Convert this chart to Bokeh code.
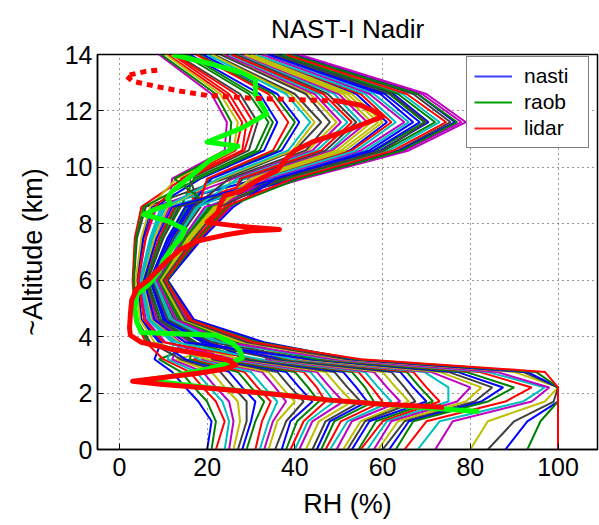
from bokeh.plotting import figure
from bokeh.models import FixedTicker, Range1d, Legend, LegendItem
from bokeh.embed import file_html
from bokeh.resources import INLINE

# ---------------- data ----------------
alt_levels = [0, 1.0, 1.7, 2.2, 2.75, 3.2, 3.8, 4.6, 6.0, 7.5, 8.6, 9.6, 10.6, 11.6, 12.6, 14.0]

nasti_rh = [
    [20, 21, 18, 15, 12, 8, 9.5, 5, 4, 5.5, 8, 18.5, 33, 36, 32, 16],
    [21, 22, 20, 17, 14, 9, 19.5, 10.3, 7, 11, 15.5, 20.5, 36, 40, 35, 18],
    [22, 24, 22, 19, 16, 10, 6, 3.5, 3, 3.5, 5, 14.5, 28, 29, 25, 12],
    [24, 25, 23.5, 20.5, 17.5, 11, 12.5, 6.7, 4.9, 7.2, 10, 38.5, 61.5, 73, 64.5, 37.5],
    [25, 26, 25, 22, 19, 12, 14, 7.5, 5.5, 8, 11.5, 12, 24, 24.5, 21, 9],
    [26, 27.5, 27, 24, 21, 13, 28.5, 15, 9.8, 16.5, 22.5, 25.5, 43, 49.5, 43.5, 23.5],
    [27, 29, 29, 26, 23, 14, 7, 4, 3.3, 4, 6, 24, 40, 46, 40, 21.5],
    [28, 30, 31, 28, 25, 15, 9, 5, 3.9, 5.2, 7.3, 32, 52.5, 61, 54, 30.5],
    [29, 31, 33, 30, 27, 16, 17.5, 9.5, 6.5, 10, 14, 17, 31, 34, 29.5, 14.5],
    [31, 32.5, 34.5, 31.5, 28.5, 17, 23, 12, 8.1, 13, 18, 14, 26.5, 28, 24, 11],
    [32, 34, 36, 33, 30, 18, 12, 6.5, 4.7, 7, 9.5, 29, 48, 55, 49, 27],
    [33, 35, 38, 35.5, 32.5, 19, 16, 8.5, 6, 9.2, 12.7, 41, 65, 78, 69, 40],
    [34, 36, 40, 37, 34, 20, 8, 4.7, 3.7, 5, 7, 13, 26, 27, 23, 10.5],
    [35.5, 38, 42, 39, 36, 21, 31, 16, 10.5, 18, 24.5, 28, 47, 54, 47.5, 26.5],
    [37, 39, 44, 41, 38, 22, 20, 10.5, 7, 11.5, 16, 21, 37, 41, 36, 19],
    [38, 40.5, 45.5, 43, 40, 23, 6.5, 3.8, 3.2, 3.8, 5.5, 18, 32, 35, 30.5, 15.5],
    [39, 42, 47, 45, 42, 24, 15, 8, 6, 9, 12.5, 33, 53, 62, 55, 31],
    [40, 43, 49, 46.5, 43.5, 25, 25, 13, 8.8, 14.5, 20, 35, 56, 66, 58, 33],
    [41, 44, 51, 48, 45, 26, 10.5, 6, 4.4, 6, 8.5, 26, 44, 50.5, 44.5, 24],
    [42.5, 45.5, 53, 50, 47, 27.5, 13.5, 7.3, 5.3, 8, 11, 23, 39.5, 44.5, 39, 21],
    [44, 47, 55, 52, 49, 28, 23.5, 12.5, 8, 13.5, 18.5, 16, 29.5, 31.5, 27.5, 13],
    [45, 48, 56.5, 54, 51, 29.5, 20.5, 11, 7.4, 12, 16.5, 37.5, 59.5, 70.5, 62.5, 36],
    [46, 49, 58, 56, 53, 30, 16.5, 9, 6, 9.5, 13, 36.5, 58.5, 69.5, 61.5, 35.5],
    [47, 50.5, 60, 57.5, 54.5, 31.5, 10, 5.6, 4.2, 6, 8, 15.5, 28.5, 30.5, 26.5, 12.5],
    [48, 52, 62, 59, 56, 32, 13, 7, 5, 7.5, 10.5, 22.5, 38.5, 43.5, 38, 20],
    [49.5, 53, 64, 61, 58, 33.5, 32, 17, 11, 18.5, 25.5, 29.5, 48.5, 56.5, 50, 28],
    [51, 55, 66, 63, 60, 35, 27, 14, 9.3, 15.5, 21.5, 30, 49.5, 57.5, 51, 28.5],
    [52, 56, 67.5, 65, 62, 35.5, 17, 9, 6.3, 10, 13.5, 40, 63.5, 75.5, 67, 39],
    [53, 57, 70, 67, 64, 37, 19, 10, 7, 11, 15, 40.5, 64, 76.5, 68, 39.5],
    [54.5, 58.5, 71.5, 68.5, 65.5, 37.5, 26.5, 14, 9.1, 15, 21, 12.5, 25, 25.5, 22, 9.5],
    [55, 60, 73, 70, 67, 39, 22, 11.5, 8, 13, 18, 20, 35, 38.5, 34, 17.5],
    [56.5, 61, 75, 75, 69.5, 39.5, 22, 11.5, 7.7, 12.5, 17.5, 27, 45, 52, 45.5, 25],
    [58, 62, 77, 80, 71, 41, 29.5, 15.5, 10, 17, 23, 34, 55, 65, 57, 32.5],
    [59, 63.5, 79, 82.5, 73, 41.5, 27.5, 14.5, 9.5, 16, 22, 31, 50.5, 59, 52, 29],
    [60, 65, 81, 85, 75, 43, 21, 11, 7.5, 12.5, 17, 25, 42.5, 48, 42.5, 23],
    [61.5, 66, 82.5, 87.5, 77, 43.5, 15, 8, 5.6, 8.5, 12, 36, 58, 68.5, 60.5, 34.5],
    [63, 67, 84, 90, 79, 45, 26, 13.5, 9, 15, 20.5, 38, 60.5, 72, 63.5, 37],
    [65, 70, 88, 94, 82, 47, 32, 16.5, 10.5, 18.5, 25, 27.5, 46, 53, 46.5, 25.5],
    [68, 73, 92, 97, 84, 48, 23, 12, 8, 13, 18, 33, 54, 63, 56, 31],
    [72, 76, 94, 98, 86, 49, 24.5, 13, 8.5, 14.5, 19.5, 42, 66, 79, 70, 41],
    [80, 84, 97, 100, 90, 51, 28, 14.5, 9.5, 16.5, 22.5, 31.5, 51.5, 60, 53, 30],
    [84, 90, 99, 100, 92, 52, 29, 15, 10, 17, 23, 37, 60, 70, 62, 35],
    [88, 93, 100, 100, 93, 53, 33, 17, 11, 19, 26, 35.5, 57, 67, 59.5, 34],
    [93, 96, 100, 100, 95, 54, 31.5, 16, 10.8, 18, 24.5, 41, 64.5, 77, 68, 39],
    [100, 100, 100, 100, 97, 55, 30.5, 16, 10.5, 17.5, 24, 39.5, 62.5, 74.5, 65.5, 38],
]

raob_alt = [1.35, 1.45, 1.6, 1.75, 2.0, 2.2, 2.35, 2.44, 2.6, 2.85, 3.1, 3.25, 3.5, 3.74, 4.05,
            4.15, 4.5, 5.0, 5.5, 5.9, 6.3, 6.7, 7.14, 7.5, 7.8, 8.1, 8.33, 8.5, 8.7, 8.9, 9.15,
            9.4, 9.86, 10.3, 10.75, 10.9, 11.4, 11.9, 12.6, 13.1, 13.35, 13.7, 14.0]
raob_rh = [82, 72, 60, 48, 33, 20, 12, 5, 12, 20, 26, 28, 27.5, 26, 22,
           5, 4, 3.5, 4, 7, 9, 10, 12, 14, 15, 11, 5.5, 8, 11.6, 11, 12,
           14, 17.6, 21, 27, 20, 28, 33.6, 31, 31, 28, 20, 12]

lidar_alt = [1.5, 1.6, 1.75, 1.95, 2.15, 2.3, 2.42, 2.55, 2.7, 2.85, 3.0, 3.15, 3.35, 3.55,
             3.8, 4.05, 4.3, 4.8, 5.3, 5.7, 6.0, 6.4, 6.7, 7.1, 7.4, 7.6, 7.75, 7.8, 7.9,
             8.05, 8.2, 8.4, 8.7, 9.0, 9.15, 9.5, 9.9, 10.3, 10.6, 10.9, 11.2, 11.5, 11.8,
             12.0, 12.2, 12.35]
lidar_rh = [74, 60, 48, 36, 22, 10, 3, 10, 18, 24, 26.5, 25, 20, 12,
            5, 2.5, 2.3, 2.5, 2.8, 4, 6.5, 9, 11, 14, 18, 24, 30, 36.5, 28,
            20, 21, 22.5, 23, 24, 27.5, 31, 36, 38, 40, 44, 50, 55, 60,
            58, 55, 50]
lidar_top_alt = [12.35, 12.45, 12.55, 12.7, 12.85, 13.05, 13.25, 13.4, 13.45]
lidar_top_rh = [50, 30, 20, 14, 9, 3, 1.5, 6, 9]

x_ticks = [0, 20, 40, 60, 80, 100]
y_ticks = [0, 2, 4, 6, 8, 10, 12, 14]

matlab_colors = ["#0000ff", "#008000", "#ff0000", "#00bfbf", "#bf00bf", "#bfbf00", "#404040"]

FONT = "Liberation Sans"

# ---------------- figure ----------------
p = figure(width=599, height=525, x_range=Range1d(-5, 109), y_range=Range1d(0, 14),
           output_backend="svg", toolbar_location=None,
           min_border_left=97, min_border_right=2, min_border_top=53, min_border_bottom=76)

p.title.text = "NAST-I Nadir"
p.title.align = "center"
p.title.text_font = FONT
p.title.text_font_size = "26px"
p.title.text_font_style = "normal"
p.title.text_color = "black"
p.title.standoff = 22

p.outline_line_color = "black"
p.outline_line_width = 1.5

for ax in (p.xaxis[0], p.yaxis[0]):
    ax.major_tick_in = 6
    ax.major_tick_out = 0
    ax.minor_tick_line_color = None
    ax.axis_line_color = "black"
    ax.axis_line_width = 1.5
    ax.major_tick_line_color = "black"
    ax.major_label_text_font = FONT
    ax.major_label_text_font_size = "25px"
    ax.major_label_text_color = "black"
    ax.axis_label_text_font = FONT
    ax.axis_label_text_font_size = "27px"
    ax.axis_label_text_font_style = "normal"
    ax.axis_label_text_color = "black"

p.xaxis.ticker = FixedTicker(ticks=x_ticks)
p.yaxis.ticker = FixedTicker(ticks=y_ticks)
p.xaxis.axis_label = "RH (%)"
p.yaxis.axis_label = "~Altitude (km)"
p.xaxis.major_label_standoff = 8
p.xaxis.axis_label_standoff = 10
p.yaxis.major_label_standoff = 5
p.yaxis.axis_label_standoff = 14

for g, t in ((p.xgrid[0], x_ticks), (p.ygrid[0], y_ticks)):
    g.ticker = FixedTicker(ticks=t)
    g.grid_line_color = "black"
    g.grid_line_dash = "1 4"
    g.grid_line_alpha = 0.8

# nasti profiles
for i, prof in enumerate(nasti_rh):
    p.line(prof, alt_levels, line_color=matlab_colors[i % 7], line_width=2)

# raob
p.line(raob_rh, raob_alt, line_color="#00ff00", line_width=5, line_join="round")
# lidar
p.line(lidar_rh, lidar_alt, line_color="#ff0000", line_width=5, line_join="round")
p.line(lidar_top_rh, lidar_top_alt, line_color="#ff0000", line_width=5, line_dash="6 5")

# legend proxies (outside the visible range)
r1 = p.line([-50, -40], [-5, -5], line_color="#4040ff", line_width=2)
r2 = p.line([-50, -40], [-5, -5], line_color="#00a000", line_width=2)
r3 = p.line([-50, -40], [-5, -5], line_color="#ff2020", line_width=2)
legend = Legend(items=[LegendItem(label="nasti", renderers=[r1]),
                       LegendItem(label="raob", renderers=[r2]),
                       LegendItem(label="lidar", renderers=[r3])],
                location=(369, 301))
legend.label_text_font = FONT
legend.label_text_font_size = "21px"
legend.label_text_color = "black"
legend.glyph_width = 38
legend.glyph_height = 22
legend.label_height = 22
legend.label_width = 57
legend.label_standoff = 12
legend.spacing = 2
legend.padding = 7
legend.margin = 0
legend.border_line_color = "black"
legend.border_line_width = 1.5
legend.background_fill_alpha = 1
p.add_layout(legend)

open("out.html", "w").write(file_html(p, INLINE))
